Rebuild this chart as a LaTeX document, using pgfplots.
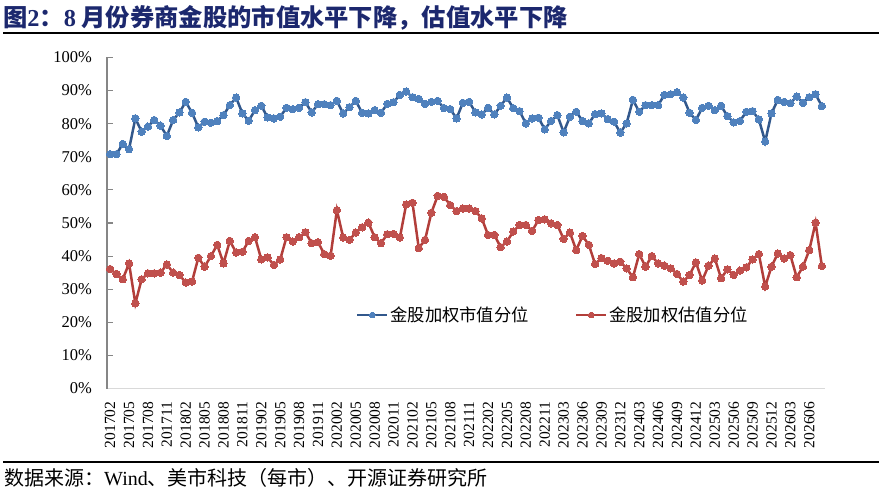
\documentclass[border=0pt]{standalone}
\usepackage{fontspec}
\setmainfont{Liberation Serif}
\newfontfamily\cjk{Noto Sans CJK SC}
\usepackage{pgfplots}
\usepackage{pgfplotstable}
\pgfplotsset{compat=1.18}
\definecolor{bluemk}{RGB}{79,129,189}
\definecolor{blueln}{RGB}{50,88,140}
\definecolor{redmk}{RGB}{192,80,77}
\definecolor{redln}{RGB}{178,62,58}
\definecolor{titleblue}{RGB}{28,40,110}
\definecolor{axgray}{RGB}{134,134,134}
\definecolor{axlight}{RGB}{217,217,217}
\pgfplotstableread{
i mv pe
0 70.8 36.1
1 70.8 34.6
2 73.9 33.0
3 72.3 37.8
4 81.6 25.7
5 77.6 33.0
6 79.1 34.8
7 81.1 34.8
8 79.4 35.0
9 76.3 37.5
10 81.1 35.0
11 83.4 34.3
12 86.6 32.0
13 83.3 32.3
14 78.9 39.5
15 80.6 36.8
16 80.3 40.0
17 80.8 43.4
18 82.6 37.8
19 85.6 44.6
20 87.9 41.1
21 83.1 41.3
22 80.9 44.6
23 84.1 45.7
24 85.4 39.0
25 81.9 39.6
26 81.6 37.3
27 82.1 39.0
28 84.8 45.7
29 84.4 44.4
30 84.8 45.7
31 86.5 47.2
32 83.4 43.9
33 85.9 44.2
34 85.9 40.6
35 85.6 40.1
36 86.9 53.9
37 83.1 45.6
38 85.0 44.9
39 86.9 47.1
40 83.3 48.7
41 83.1 50.1
42 84.1 45.7
43 83.3 43.9
44 86.0 46.6
45 86.5 46.7
46 88.7 45.6
47 89.7 55.6
48 88.0 56.1
49 87.5 42.4
50 86.0 44.9
51 86.6 53.1
52 86.9 58.2
53 84.7 57.9
54 84.4 55.4
55 81.6 53.6
56 86.3 54.4
57 86.6 54.4
58 83.4 53.6
59 82.8 51.4
60 84.8 46.4
61 82.8 46.4
62 85.4 42.7
63 87.9 44.4
64 84.7 47.4
65 83.8 49.4
66 80.1 49.4
67 81.6 47.6
68 81.8 50.9
69 78.3 51.1
70 80.8 49.9
71 82.6 49.4
72 77.4 45.2
73 82.1 47.1
74 83.6 41.8
75 80.8 46.1
76 80.1 43.4
77 82.9 37.6
78 83.1 39.4
79 81.4 38.6
80 80.6 37.8
81 77.3 38.3
82 80.1 36.3
83 87.2 33.6
84 83.6 40.6
85 85.6 36.8
86 85.6 40.0
87 85.6 37.8
88 88.7 37.1
89 88.9 36.3
90 89.5 34.6
91 87.9 32.3
92 83.3 34.3
93 81.1 38.1
94 84.8 32.6
95 85.4 37.1
96 84.1 39.3
97 85.4 33.3
98 82.3 36.0
99 80.4 34.3
100 80.8 35.6
101 83.6 36.6
102 83.8 39.0
103 81.3 40.6
104 74.6 30.8
105 83.1 36.8
106 87.2 40.8
107 86.6 39.3
108 86.2 40.3
109 88.2 33.6
110 86.3 36.8
111 88.0 41.8
112 88.9 50.1
113 85.3 37.0
}\data
\begin{document}
\begin{tikzpicture}
\useasboundingbox (0,0) rectangle (882pt,490pt);
% title
\node[anchor=west, inner sep=0pt, text=titleblue] at (3pt,472pt)
  {\cjk\bfseries\fontsize{24.3}{24.3}\selectfont 图{\rmfamily\bfseries 2}：{\rmfamily\bfseries 8} 月份券商金股的市值水平下降，估值水平下降};
\draw[line width=1.6pt] (3pt,457pt) -- (879pt,457pt);
\draw[line width=1.6pt] (3pt,28pt) -- (879pt,28pt);
\node[anchor=west, inner sep=0pt] at (4pt,12pt)
  {\cjk\fontsize{20}{20}\selectfont 数据来源：{\rmfamily Wind}、美市科技（每市）、开源证券研究所};
\begin{axis}[
  at={(107pt,101.5pt)}, anchor=south west,
  scale only axis, width=718pt, height=331pt,
  xmin=-0.5, xmax=113.5, ymin=0, ymax=100,
  axis lines*=left,
  x axis line style={draw=axlight, line width=1.4pt},
  y axis line style={draw=axgray, line width=1.4pt},
  xtick={0,3,...,111},
  xticklabels={201702,201705,201708,201711,201802,201805,201808,201811,201902,201905,201908,201911,202002,202005,202008,202011,202102,202105,202108,202111,202202,202205,202208,202211,202303,202306,202309,202312,202403,202406,202409,202412,202503,202506,202509,202512,202603,202606},
  xtick style={draw=none},
  xticklabel style={rotate=90, anchor=east, inner sep=0pt, font=\fontsize{15.5}{15.5}\selectfont},
  xticklabel shift=13pt,
  ytick={0,10,...,100},
  yticklabels={0\%,10\%,20\%,30\%,40\%,50\%,60\%,70\%,80\%,90\%,100\%},
  yticklabel style={anchor=east, inner sep=0pt, font=\fontsize{16.5}{16.5}\selectfont},
  yticklabel shift=15pt,
  tick align=inside,
  major tick length=5.5pt,
  ytick style={draw=axgray, line width=1.2pt},
  /pgf/number format/assume math mode=true,
  clip=false,
  legend columns=2,
  legend style={at={(0.621,0.222)}, anchor=center, draw=none, fill=none,
    font=\cjk\fontsize{17.3}{17.3}\selectfont,
    /tikz/every even column/.append style={column sep=44pt}},
  legend image code/.code={\draw[mark repeat=2,mark phase=2,mark size=2.8pt] plot coordinates {(0pt,0pt) (15pt,0pt) (30pt,0pt)};},
]
\addplot[color=blueln, line width=2.5pt, mark=*, mark size=3.7pt,
  mark options={fill=bluemk, draw=bluemk, line width=0pt}] table[x=i,y=mv]{\data};
\addlegendentry{金股加权市值分位}
\addplot[color=redln, line width=2.5pt, mark=*, mark size=3.7pt,
  mark options={fill=redmk, draw=redmk, line width=0pt}] table[x=i,y=pe]{\data};
\addlegendentry{金股加权估值分位}
\end{axis}
\end{tikzpicture}
\end{document}
